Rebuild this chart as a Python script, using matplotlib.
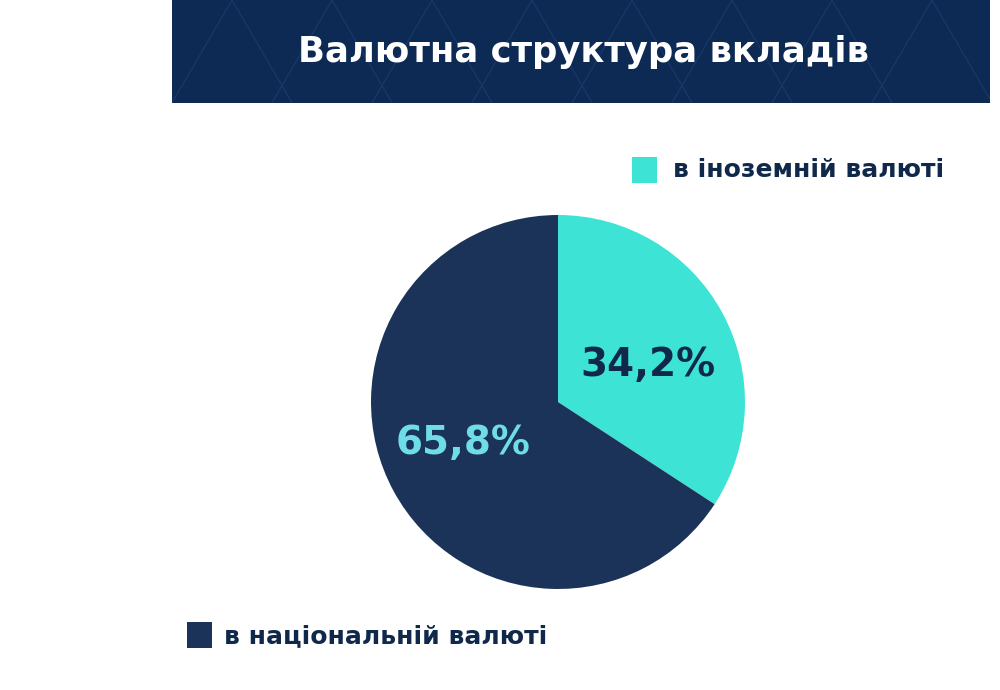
import matplotlib.pyplot as plt
from matplotlib.patches import Rectangle
from matplotlib.lines import Line2D

plt.rcParams['font.family'] = ['DejaVu Sans']

title = 'Валютна структура вкладів'
categories = ['в іноземній валюті', 'в національній валюті']
shares = [34.2, 65.8]
share_labels = ['34,2%', '65,8%']
colors = ['#3de3d4', '#1b3358']
label_colors = ['#10294a', '#6fdde8']

fig = plt.figure(figsize=(10, 6.9), dpi=100)

# header band with faint pattern
header = Rectangle((0.172, 0.851), 0.818, 0.149, transform=fig.transFigure,
                   facecolor='#0d2a55', edgecolor='none', zorder=0)
fig.patches.append(header)
for x0 in [0.172, 0.272, 0.372, 0.472, 0.572, 0.672, 0.772, 0.872]:
    ln = Line2D([x0, x0 + 0.06, x0 + 0.12], [0.851, 1.0, 0.851],
                transform=fig.transFigure, color='#173766', lw=1, zorder=0.5)
    ln.set_clip_path(header)
    fig.lines.append(ln)
fig.text(0.583, 0.925, title, color='white', fontsize=25.5, fontweight='bold',
         ha='center', va='center')

# pie
ax = fig.add_axes([0.371, 0.1464, 0.374, 0.542])
wedges, _ = ax.pie(shares, colors=colors, startangle=90, counterclock=False,
                   radius=1, wedgeprops=dict(linewidth=0))
ax.set_xlim(-1, 1)
ax.set_ylim(-1, 1)
ax.set_aspect('equal')
ax.axis('off')

label_pos = [(0.48, 0.20), (-0.51, -0.22)]
for lab, (x, y), c in zip(share_labels, label_pos, label_colors):
    ax.text(x, y, lab, color=c, fontsize=28, fontweight='bold', ha='center', va='center')

# legend entries
legend_items = [(0.632, 0.735, 0.673, 0.754), (0.187, 0.061, 0.224, 0.078)]
for (sx, sy, tx, ty), name, c in zip(legend_items, categories, colors):
    fig.patches.append(Rectangle((sx, sy), 0.025, 0.037, transform=fig.transFigure,
                                 facecolor=c, edgecolor='none'))
    fig.text(tx, ty, name, color='#10294a', fontsize=18, fontweight='bold',
             ha='left', va='center')

fig.savefig('out.png', dpi=100, facecolor='white')
